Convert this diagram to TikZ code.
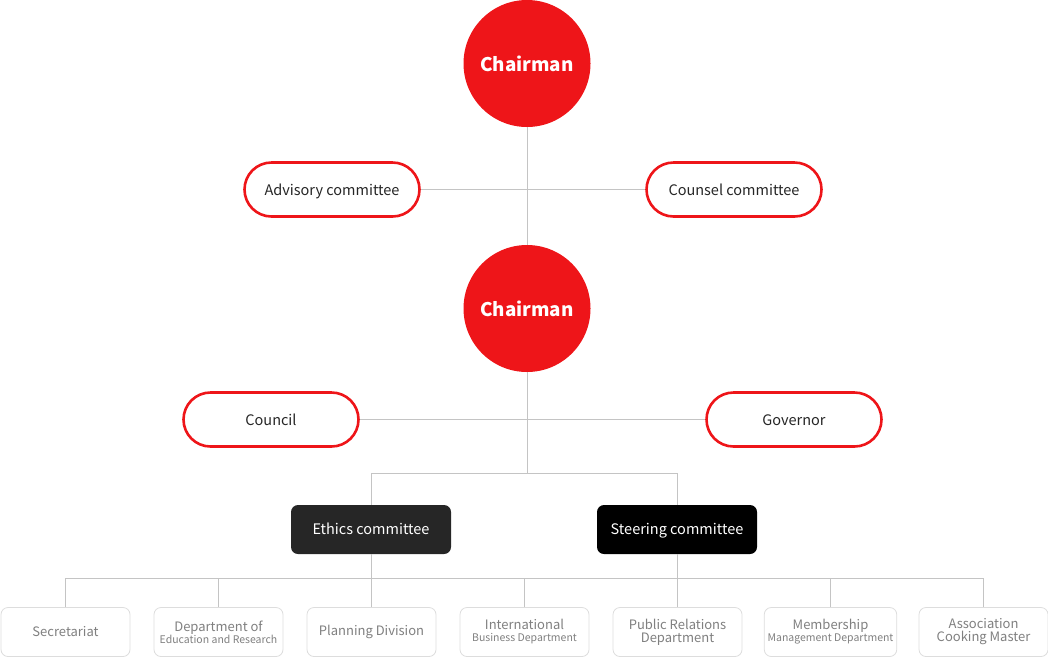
\documentclass[tikz,border=0pt]{standalone}
\usepackage{fontspec}
\setmainfont{Noto Sans CJK KR}
\usetikzlibrary{positioning,calc}
\definecolor{chairred}{HTML}{EE1519}
\definecolor{linegray}{HTML}{C4C4C4}
\definecolor{boxgray}{HTML}{DDDDDD}
\definecolor{textgray}{HTML}{808080}
\begin{document}
\begin{tikzpicture}[x=1pt,y=-1pt,
    chair/.style={circle,fill=chairred,minimum size=127pt,inner sep=0pt,text=white,font=\fontsize{18.8}{22}\selectfont\bfseries},
    pill/.style={draw=chairred,line width=2.6pt,fill=white,rounded corners=27pt,minimum width=175pt,minimum height=54pt,text=black!85,text height=12.5pt,text depth=1pt,font=\fontsize{14.5}{17}\selectfont},
    darkbox/.style={rounded corners=7pt,minimum width=160pt,minimum height=49pt,text=white,text height=12pt,text depth=1.5pt,font=\fontsize{14.5}{17}\selectfont},
    dept/.style={draw=boxgray,line width=0.8pt,fill=white,rounded corners=7pt,minimum width=129pt,minimum height=49pt,text=textgray,align=center,font=\fontsize{13}{13}\selectfont},
    conn/.style={draw=linegray,line width=0.8pt}]
    \newcommand{\sub}[1]{{\fontsize{10.5}{11}\selectfont #1}}
    \useasboundingbox (0,0) rectangle (1048,657);

    % Chairmen
    \node[chair] (chairA) at (527,63.5) {Chairman};
    \node[chair] (chairB) at (527,308.5) {Chairman};

    % Committees
    \node[pill] (advisory) at (332,189.5) {Advisory committee};
    \node[pill] (counsel) at (734,189.5) {Counsel committee};
    \node[pill] (council) at (271,419.5) {Council};
    \node[pill] (governor) at (794,419.5) {Governor};

    \node[darkbox,fill=black!85] (ethics) at (371,529.5) {Ethics committee};
    \node[darkbox,fill=black] (steering) at (677,529.5) {Steering committee};

    % Departments
    \node[dept] (secretariat) at (65.5,632) {Secretariat};
    \node[dept] (education) at (218.5,632) {Department of\\[-1pt]\sub{Education and Research}};
    \node[dept] (planning) at (371.5,632) {Planning Division};
    \node[dept] (international) at (524.5,632) {International\\[-1pt]\sub{Business Department}};
    \node[dept] (public) at (677.5,632) {Public Relations\\Department};
    \node[dept] (membership) at (830.5,632) {Membership\\[-1pt]\sub{Management Department}};
    \node[dept] (association) at (983.5,632) {Association\\Cooking Master};

    % Connectors
    \coordinate (split) at (527,474);
    \draw[conn] (chairA.south) -- (chairB.north);
    \draw[conn] (advisory.east) -- (counsel.west);
    \draw[conn] (council.east) -- (governor.west);
    \draw[conn] (chairB.south) -- (split);
    \draw[conn] (ethics.north -| planning.north) -- ++(0,-31) -| (steering.north -| public.north);
    \draw[conn] (ethics.south -| planning.north) -- (planning.north);
    \draw[conn] (steering.south -| public.north) -- (public.north);
    \draw[conn] (secretariat.north) -- ++(0,-29) -| (association.north);
    \foreach \d in {education,international,membership}
        \draw[conn] (\d.north) -- ++(0,-29);
\end{tikzpicture}
\end{document}
